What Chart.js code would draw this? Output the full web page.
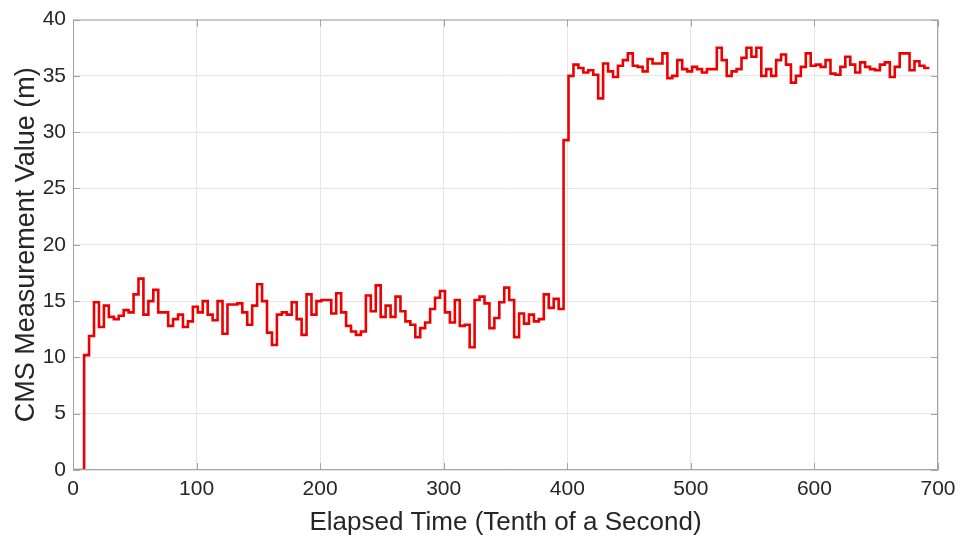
<!DOCTYPE html>
<html>
<head>
<meta charset="utf-8">
<script src="https://cdn.jsdelivr.net/npm/chart.js@4/dist/chart.umd.min.js"></script>
<style>
  body { margin: 0; background: #fff; }
  #wrap { width: 965px; height: 538px; }
</style>
</head>
<body>
<div id="wrap"><canvas id="myChart" width="965" height="538"></canvas></div>
<script>
// sampling clock (tenths of a second)
const firstSample = 1
const sampleStep = 4
const lastSample = 693

// CMS readings, one per sample (m)
const measurements = [
  0, 0, 10.2, 11.9, 14.9, 12.7, 14.6, 13.6, 13.4, 13.7, 14.2, 14.0, 15.6, 17.0, 13.8, 15.0,
  16.0, 14.0, 14.0, 12.8, 13.4, 13.8, 12.7, 13.2, 14.5, 14.0, 15.0, 13.8, 13.3, 15.0,
  12.1, 14.7, 14.7, 14.8, 14.0, 12.9, 14.6, 16.5, 15.0, 12.2, 11.1, 13.8, 14.0, 13.8, 14.9,
  13.4, 12.0, 15.6, 13.8, 15.0, 15.1, 15.1, 13.9, 15.7, 14.0, 12.8, 12.3, 12.0, 12.3, 15.5,
  14.1, 16.4, 13.6, 14.6, 13.6, 15.4, 14.1, 13.2, 12.9, 11.8, 12.6, 13.1, 14.3, 15.3, 15.9,
  14.0, 13.1, 15.1, 12.8, 12.9, 10.9, 15.1, 15.4, 14.8, 12.6, 13.5, 14.9, 16.2, 15.1, 11.8,
  13.9, 13.0, 13.8, 13.2, 13.4, 15.6, 14.4, 15.2, 14.3,
  29.3, 35.0, 36.0, 35.7, 35.3, 35.5, 35.1, 33.0, 36.1, 35.4, 34.9, 35.9, 36.4, 37.0, 35.9,
  35.8, 35.4, 36.5, 36.1, 36.1, 37.0, 34.8, 35.0, 36.4, 35.6, 35.4, 35.8, 35.6, 35.3, 35.6,
  35.6, 37.5, 36.4, 35.0, 35.4, 35.6, 36.6, 37.5, 36.7, 37.5, 35.0, 35.6, 35.0, 36.4, 36.9,
  36.0, 34.4, 35.0, 35.8, 37.0, 35.9, 36.0, 35.8, 36.4, 35.2, 35.1, 35.8, 36.7, 36.0, 35.3,
  36.2, 35.8, 35.6, 35.5, 36.0, 36.2, 34.9, 35.8, 37.0, 37.0, 35.5, 36.3, 35.9, 35.7
]

// axis ticks
const xTicks = [0, 100, 200, 300, 400, 500, 600, 700]
const yTicks = [0, 5, 10, 15, 20, 25, 30, 35, 40]

const points = measurements.map((v, i) => ({ x: firstSample + sampleStep * i, y: v }))
points.push({ x: lastSample, y: measurements[measurements.length - 1] })

const axisGray = '#a3a3a3'
const textGray = '#262626'

// box round the plot with inward ticks, like the original figure
const frameBox = {
  id: 'frameBox',
  afterDraw(chart) {
    const { ctx, chartArea: a, scales: { x, y } } = chart
    const len = 7
    ctx.save()
    ctx.strokeStyle = axisGray
    ctx.lineWidth = 1
    ctx.strokeRect(a.left + 0.5, a.top + 0.5, a.right - a.left - 1, a.bottom - a.top - 1)
    ctx.beginPath()
    xTicks.forEach(t => {
      const px = Math.round(x.getPixelForValue(t)) + 0.5
      ctx.moveTo(px, a.bottom); ctx.lineTo(px, a.bottom - len)
      ctx.moveTo(px, a.top); ctx.lineTo(px, a.top + len)
    })
    yTicks.forEach(t => {
      const py = Math.round(y.getPixelForValue(t)) + 0.5
      ctx.moveTo(a.left, py); ctx.lineTo(a.left + len, py)
      ctx.moveTo(a.right, py); ctx.lineTo(a.right - len, py)
    })
    ctx.stroke()
    ctx.restore()
  }
}

const data = {
  datasets: [{
    label: 'CMS',
    data: points,
    borderColor: '#ec0000',
    borderWidth: 2.6,
    pointRadius: 0,
    stepped: 'before',
    fill: false
  }]
}

const config = {
  type: 'line',
  data,
  options: {
    responsive: false,
    animation: false,
    devicePixelRatio: 1,
    layout: { padding: { top: 18, right: 27, left: 0, bottom: 0 } },
    scales: {
      x: {
        type: 'linear',
        min: 0,
        max: 700,
        afterFit: s => { s.height = 68 },
        afterBuildTicks: s => { s.ticks = xTicks.map(v => ({ value: v })) },
        ticks: {
          color: textGray,
          padding: 7,
          maxRotation: 0,
          font: { family: 'Liberation Sans', size: 21 }
        },
        grid: { color: '#e6e6e6', drawTicks: false },
        border: { display: false },
        title: {
          display: true,
          text: 'Elapsed Time (Tenth of a Second)',
          color: textGray,
          padding: { top: 0, bottom: 0 },
          font: { family: 'Liberation Sans', size: 26 }
        }
      },
      y: {
        min: 0,
        max: 40,
        afterFit: s => { s.width = 73 },
        afterBuildTicks: s => { s.ticks = yTicks.map(v => ({ value: v })) },
        ticks: {
          color: textGray,
          padding: 7,
          font: { family: 'Liberation Sans', size: 21 }
        },
        grid: { color: '#e6e6e6', drawTicks: false },
        border: { display: false },
        title: {
          display: true,
          text: 'CMS Measurement Value (m)',
          color: textGray,
          padding: { top: 10, bottom: 0 },
          font: { family: 'Liberation Sans', size: 27 }
        }
      }
    },
    plugins: {
      legend: { display: false },
      tooltip: { enabled: false }
    }
  },
  plugins: [frameBox]
}

const myChart = new Chart(document.getElementById('myChart'), config)
</script>
</body>
</html>
